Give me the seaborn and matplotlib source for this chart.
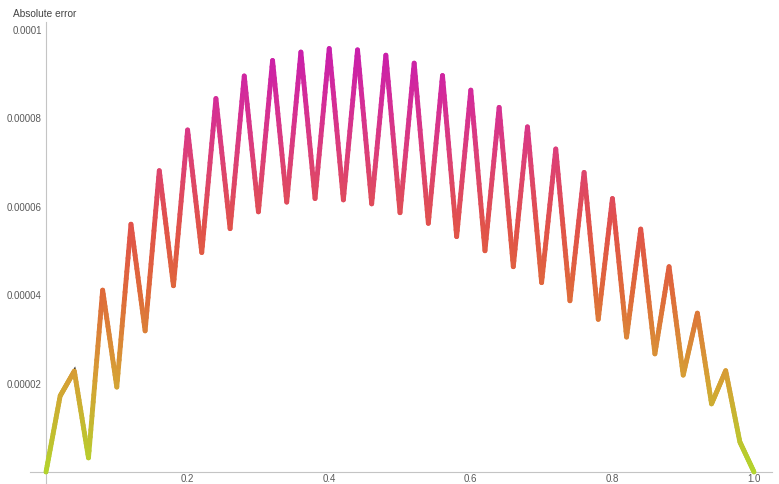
import numpy as np
import pandas as pd
import matplotlib
matplotlib.use("Agg")
import matplotlib.pyplot as plt
import seaborn as sns
from matplotlib.collections import LineCollection
from matplotlib.colors import LinearSegmentedColormap, Normalize
from matplotlib.ticker import MultipleLocator

# ---- data ----
x_values = [0.00, 0.02, 0.04, 0.06, 0.08, 0.10, 0.12, 0.14, 0.16, 0.18,
            0.20, 0.22, 0.24, 0.26, 0.28, 0.30, 0.32, 0.34, 0.36, 0.38,
            0.40, 0.42, 0.44, 0.46, 0.48, 0.50, 0.52, 0.54, 0.56, 0.58,
            0.60, 0.62, 0.64, 0.66, 0.68, 0.70, 0.72, 0.74, 0.76, 0.78,
            0.80, 0.82, 0.84, 0.86, 0.88, 0.90, 0.92, 0.94, 0.96, 0.98, 1.00]
abs_error_e5 = [0.00, 1.72, 2.28, 0.32, 4.11, 1.92, 5.60, 3.19, 6.81, 4.21,
                7.73, 4.96, 8.44, 5.50, 8.95, 5.88, 9.30, 6.10, 9.49, 6.18,
                9.57, 6.15, 9.54, 6.06, 9.42, 5.86, 9.24, 5.62, 8.96, 5.32,
                8.63, 5.00, 8.24, 4.64, 7.80, 4.28, 7.30, 3.87, 6.77, 3.45,
                6.18, 3.05, 5.49, 2.67, 4.64, 2.19, 3.59, 1.54, 2.29, 0.68, 0.00]
x_ticks = [0.2, 0.4, 0.6, 0.8, 1.0]
x_tick_labels = ["0.2", "0.4", "0.6", "0.8", "1.0"]
y_ticks = [0.00002, 0.00004, 0.00006, 0.00008, 0.0001]
y_tick_labels = ["0.00002", "0.00004", "0.00006", "0.00008", "0.0001"]
y_label = "Absolute error"

abs_error = [v * 1e-5 for v in abs_error_e5]
df = pd.DataFrame({"x": x_values, "err": abs_error})

sns.set_style("white")
plt.rcParams["font.family"] = ["Liberation Sans", "DejaVu Sans"]

fig = plt.figure(figsize=(7.79, 4.84), dpi=100)
ax = fig.add_axes([30 / 779, 0, 742 / 779, 462 / 484])
ax.patch.set_alpha(0)

# base line (black underlay, like Mathematica's line base colour)
sns.lineplot(data=df, x="x", y="err", ax=ax, color="black", linewidth=2.3,
             solid_joinstyle="miter", solid_capstyle="projecting", zorder=2)

# value-coloured gradient on top
cmap = LinearSegmentedColormap.from_list(
    "errgrad",
    [(0.00, "#b3d42c"), (0.22, "#d6a034"), (0.42, "#df6a3a"),
     (0.58, "#e1524a"), (0.75, "#dc3f78"), (0.88, "#d42c98"), (1.00, "#c81eac")])
norm = Normalize(vmin=0, vmax=max(abs_error))
xs = df["x"].to_numpy()
ys = df["err"].to_numpy()
segs, cols = [], []
n_sub = 24
for i in range(len(xs) - 1):
    t = np.linspace(0, 1, n_sub + 1)
    px = xs[i] + (xs[i + 1] - xs[i]) * t
    py = ys[i] + (ys[i + 1] - ys[i]) * t
    for k in range(n_sub):
        segs.append([(px[k], py[k]), (px[k + 1], py[k + 1])])
        cols.append(cmap(norm(0.5 * (py[k] + py[k + 1]))))
lc = LineCollection(segs, colors=cols, linewidths=3.5, capstyle="round",
                    joinstyle="round", zorder=3)
ax.add_collection(lc)

ax.set_xlim(-0.0226, 1.0254)
ax.set_ylim(-0.271e-5, 10.17e-5)

for s in ["top", "right"]:
    ax.spines[s].set_visible(False)
ax.spines["left"].set_position(("data", 0))
ax.spines["bottom"].set_position(("data", 0))
for s in ["left", "bottom"]:
    ax.spines[s].set_color("#c4c4c4")
    ax.spines[s].set_linewidth(0.8)

ax.set_xticks(x_ticks)
ax.set_xticklabels(x_tick_labels)
ax.set_yticks(y_ticks)
ax.set_yticklabels(y_tick_labels)
ax.xaxis.set_minor_locator(MultipleLocator(0.05))
ax.yaxis.set_minor_locator(MultipleLocator(0.5e-5))
ax.tick_params(which="both", direction="in", color="#c4c4c4",
               labelcolor="#5a5a5a", labelsize=7, width=0.7)
ax.tick_params(which="major", length=4)
ax.tick_params(which="minor", length=2.5)
ax.tick_params(axis="y", pad=3)
ax.tick_params(axis="x", pad=1.5)
ax.set_xlabel("")
ax.set_ylabel("")

fig.text(13 / 779, 1 - 14 / 484, y_label, fontsize=7.3, color="#444444",
         ha="left", va="center")

fig.savefig("out.png", dpi=100)
